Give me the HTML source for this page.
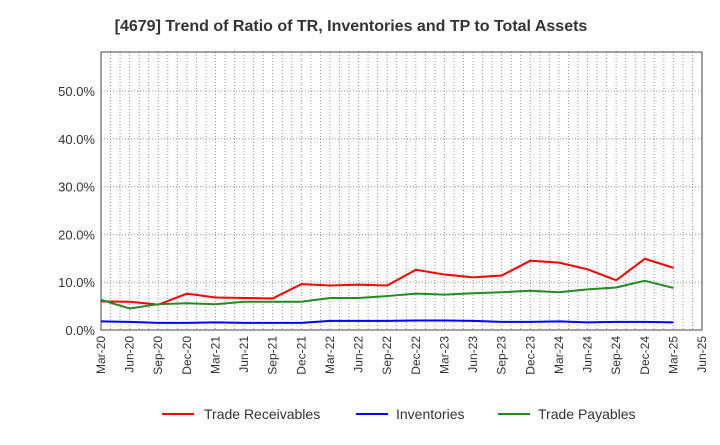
<!DOCTYPE html>
<html><head><meta charset="utf-8"><style>
body{margin:0;background:#fff;font-family:"Liberation Sans",Arial,sans-serif}
</style></head><body>
<svg width="720" height="440" id="c" font-family="Liberation Sans, Arial, sans-serif">
<text x="351" y="31" text-anchor="middle" font-size="16" font-weight="bold" fill="#333">[4679]  Trend of Ratio of TR, Inventories and TP to Total Assets</text>
<g id="grid"></g><g id="axes"></g><g id="series"></g>
<g>
<line x1="162" y1="414" x2="194" y2="414" stroke="#f00" stroke-width="2"/><text x="204" y="419" font-size="14" fill="#333">Trade Receivables</text>
<line x1="356" y1="414" x2="388" y2="414" stroke="#00f" stroke-width="2"/><text x="396" y="419" font-size="14" fill="#333">Inventories</text>
<line x1="498" y1="414" x2="530" y2="414" stroke="#228b22" stroke-width="2"/><text x="538" y="419" font-size="14" fill="#333">Trade Payables</text>
</g>
</svg>
<script>
const categories=["Mar-20","Jun-20","Sep-20","Dec-20","Mar-21","Jun-21","Sep-21","Dec-21","Mar-22","Jun-22","Sep-22","Dec-22","Mar-23","Jun-23","Sep-23","Dec-23","Mar-24","Jun-24","Sep-24","Dec-24","Mar-25","Jun-25"];
const tradeReceivables=[6.0,5.9,5.3,7.6,6.8,6.7,6.6,9.6,9.3,9.5,9.3,12.6,11.6,11.0,11.4,14.5,14.1,12.7,10.4,14.9,13.0];
const inventories=[1.8,1.7,1.5,1.5,1.6,1.5,1.5,1.5,1.9,1.9,1.9,2.0,2.0,1.9,1.7,1.7,1.8,1.6,1.7,1.7,1.6];
const tradePayables=[6.3,4.5,5.4,5.6,5.4,5.9,5.9,5.9,6.7,6.7,7.1,7.6,7.4,7.7,7.9,8.2,7.9,8.5,8.9,10.3,8.8];
const yTicks=[0,10,20,30,40,50];
const NS="http://www.w3.org/2000/svg";
const L=101,R=702,T=52,B=330;
const x=i=>L+i*(R-L)/(categories.length-1);
const y=v=>B-v*(B-91)/50;
function mk(tag,attrs,parent){const e=document.createElementNS(NS,tag);for(const k in attrs)e.setAttribute(k,attrs[k]);document.getElementById(parent).appendChild(e);return e;}
for(let m=0;m<=(categories.length-1)*3;m++){const xx=L+m*(R-L)/((categories.length-1)*3);
const g=mk('line',{x1:xx,x2:xx,y1:T,y2:B,stroke:'#999','stroke-dasharray':'1,2','stroke-width':1},'grid');

}
yTicks.forEach(t=>{const g=mk('line',{x1:L,x2:R,y1:y(t),y2:y(t),stroke:'#999','stroke-dasharray':'1,2'},'grid');


const tx=mk('text',{x:L-6,y:y(t)+5,'text-anchor':'end','font-size':13,fill:'#333'},'axes');tx.textContent=t.toFixed(1)+'%';

});
const fr=mk('rect',{x:L,y:T,width:R-L,height:B-T,fill:'none',stroke:'#444','stroke-width':1},'axes');


categories.forEach((c,i)=>{const tx=mk('text',{x:0,y:0,'text-anchor':'end','font-size':12,fill:'#333',transform:`translate(${x(i)+4},${B+6}) rotate(-90)`},'axes');tx.textContent=c;

});
[[tradeReceivables,'#f00','trade-receivables-line'],[inventories,'#00f','inventories-line'],[tradePayables,'#228b22','trade-payables-line']].forEach(([d,col,n])=>{
const p=mk('polyline',{points:d.map((v,i)=>x(i)+','+y(v)).join(' '),fill:'none',stroke:col,'stroke-width':2},'series');

});
</script>
</body></html>
